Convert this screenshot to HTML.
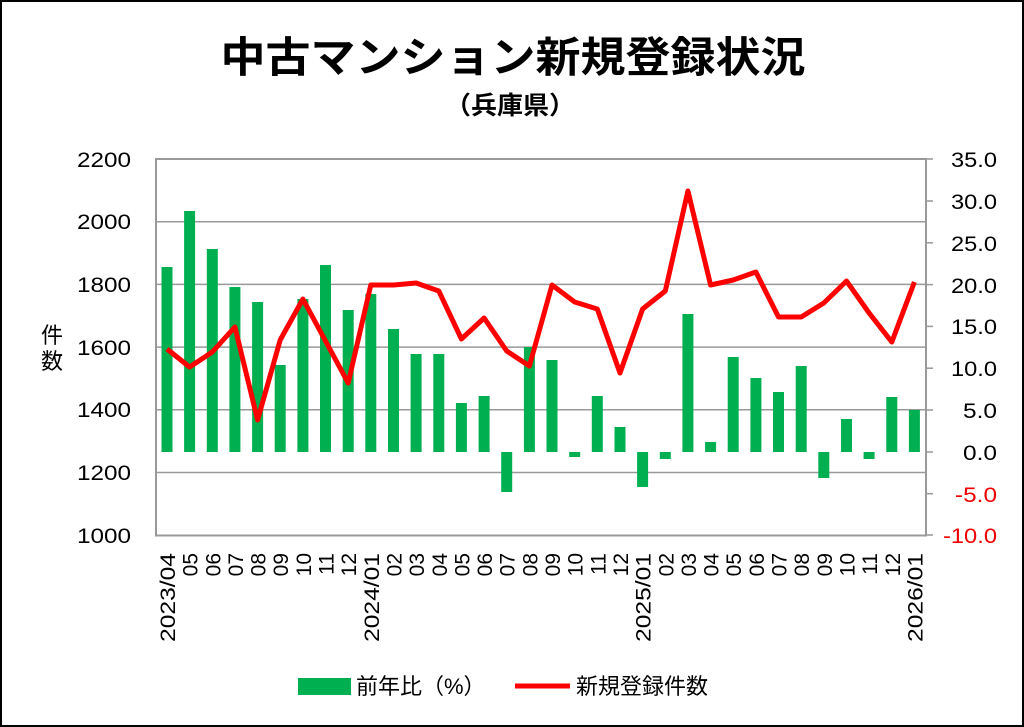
<!DOCTYPE html>
<html><head><meta charset="utf-8"><style>
html,body{margin:0;padding:0;background:#fff;}
svg{display:block;}
text{font-family:"Liberation Sans","Noto Sans CJK JP",sans-serif;}
</style></head><body>
<svg width="1024" height="727" viewBox="0 0 1024 727" xmlns="http://www.w3.org/2000/svg">
<rect x="1" y="1" width="1022" height="725" fill="#fff" stroke="#000" stroke-width="2"/>
<text x="513" y="72" font-size="42" font-weight="bold" text-anchor="middle" textLength="585" lengthAdjust="spacingAndGlyphs" font-family="Noto Sans CJK JP, sans-serif">中古マンション新規登録状況</text>
<text x="510" y="114" font-size="25" font-weight="bold" text-anchor="middle" textLength="130" lengthAdjust="spacingAndGlyphs" font-family="Noto Sans CJK JP, sans-serif">（兵庫県）</text>
<g stroke="#999" stroke-width="1.5">
<line x1="156" y1="221.7" x2="926" y2="221.7"/>
<line x1="156" y1="284.4" x2="926" y2="284.4"/>
<line x1="156" y1="347.1" x2="926" y2="347.1"/>
<line x1="156" y1="409.8" x2="926" y2="409.8"/>
<line x1="156" y1="472.5" x2="926" y2="472.5"/>
</g>
<rect x="156" y="159" width="770" height="376.5" fill="none" stroke="#999" stroke-width="2"/>
<g stroke="#999" stroke-width="1.5">
<line x1="926" y1="201" x2="933" y2="201"/><line x1="926" y1="242.8" x2="933" y2="242.8"/>
<line x1="926" y1="284.6" x2="933" y2="284.6"/><line x1="926" y1="326.4" x2="933" y2="326.4"/>
<line x1="926" y1="368.2" x2="933" y2="368.2"/><line x1="926" y1="410" x2="933" y2="410"/>
<line x1="926" y1="452" x2="933" y2="452"/><line x1="926" y1="493.7" x2="933" y2="493.7"/>
<line x1="926" y1="159" x2="933" y2="159"/><line x1="926" y1="535" x2="933" y2="535"/>
</g>
<g font-size="21" text-anchor="end" fill="#000">
<text x="131" y="167" textLength="54" lengthAdjust="spacingAndGlyphs">2200</text>
<text x="131" y="229" textLength="54" lengthAdjust="spacingAndGlyphs">2000</text>
<text x="131" y="292" textLength="54" lengthAdjust="spacingAndGlyphs">1800</text>
<text x="131" y="355" textLength="54" lengthAdjust="spacingAndGlyphs">1600</text>
<text x="131" y="417" textLength="54" lengthAdjust="spacingAndGlyphs">1400</text>
<text x="131" y="480" textLength="54" lengthAdjust="spacingAndGlyphs">1200</text>
<text x="131" y="543" textLength="54" lengthAdjust="spacingAndGlyphs">1000</text>
</g>
<g font-size="21" text-anchor="end" fill="#000">
<text x="997" y="167" textLength="46" lengthAdjust="spacingAndGlyphs">35.0</text>
<text x="997" y="209" textLength="46" lengthAdjust="spacingAndGlyphs">30.0</text>
<text x="997" y="251" textLength="46" lengthAdjust="spacingAndGlyphs">25.0</text>
<text x="997" y="293" textLength="46" lengthAdjust="spacingAndGlyphs">20.0</text>
<text x="997" y="334" textLength="46" lengthAdjust="spacingAndGlyphs">15.0</text>
<text x="997" y="376" textLength="46" lengthAdjust="spacingAndGlyphs">10.0</text>
<text x="997" y="418" textLength="34" lengthAdjust="spacingAndGlyphs">5.0</text>
<text x="997" y="460" textLength="34" lengthAdjust="spacingAndGlyphs">0.0</text>
<text x="997" y="502" fill="#e00" textLength="42" lengthAdjust="spacingAndGlyphs">-5.0</text>
<text x="997" y="543" fill="#e00" textLength="54" lengthAdjust="spacingAndGlyphs">-10.0</text>
</g>
<text x="52" y="343" font-size="22" text-anchor="middle" font-family="Noto Sans CJK JP, sans-serif">件</text>
<text x="52" y="369" font-size="22" text-anchor="middle" font-family="Noto Sans CJK JP, sans-serif">数</text>
<g fill="#00b050">
<rect x="161.5" y="267" width="11" height="185"/>
<rect x="184.1" y="211" width="11" height="241"/>
<rect x="206.8" y="249" width="11" height="203"/>
<rect x="229.4" y="287" width="11" height="165"/>
<rect x="252.1" y="302" width="11" height="150"/>
<rect x="274.7" y="365" width="11" height="87"/>
<rect x="297.4" y="299" width="11" height="153"/>
<rect x="320.0" y="265" width="11" height="187"/>
<rect x="342.7" y="310" width="11" height="142"/>
<rect x="365.3" y="294" width="11" height="158"/>
<rect x="388.0" y="329" width="11" height="123"/>
<rect x="410.6" y="354" width="11" height="98"/>
<rect x="433.3" y="354" width="11" height="98"/>
<rect x="455.9" y="403" width="11" height="49"/>
<rect x="478.6" y="396" width="11" height="56"/>
<rect x="501.2" y="452" width="11" height="40"/>
<rect x="523.9" y="347" width="11" height="105"/>
<rect x="546.5" y="360" width="11" height="92"/>
<rect x="569.2" y="452" width="11" height="5"/>
<rect x="591.8" y="396" width="11" height="56"/>
<rect x="614.5" y="427" width="11" height="25"/>
<rect x="637.1" y="452" width="11" height="35"/>
<rect x="659.8" y="452" width="11" height="7"/>
<rect x="682.4" y="314" width="11" height="138"/>
<rect x="705.1" y="442" width="11" height="10"/>
<rect x="727.7" y="357" width="11" height="95"/>
<rect x="750.4" y="378" width="11" height="74"/>
<rect x="773.0" y="392" width="11" height="60"/>
<rect x="795.7" y="366" width="11" height="86"/>
<rect x="818.3" y="452" width="11" height="26"/>
<rect x="841.0" y="419" width="11" height="33"/>
<rect x="863.6" y="452" width="11" height="7"/>
<rect x="886.3" y="397" width="11" height="55"/>
<rect x="908.9" y="410" width="11" height="42"/>
</g>
<polyline fill="none" stroke="#f00" stroke-width="5" stroke-linejoin="round" points="167,349 189.6,367 212.3,352 234.9,327 257.6,420 280.2,340 302.9,299 325.5,341 348.2,383 370.8,285 393.5,285 416.1,283 438.8,291 461.4,339 484.1,318 506.7,351 529.4,366 552,285 574.7,302 597.3,309 620,373 642.6,309 665.3,291 687.9,191 710.6,285 733.2,280 755.9,272 778.5,317 801.2,317 823.8,303 846.5,281 869.1,313 891.8,342 914.4,282"/>
<g font-size="21" fill="#000" text-anchor="end">
<text transform="translate(175,553) rotate(-90)" textLength="89" lengthAdjust="spacingAndGlyphs">2023/04</text>
<text transform="translate(197.6,553) rotate(-90)">05</text>
<text transform="translate(220.3,553) rotate(-90)">06</text>
<text transform="translate(242.9,553) rotate(-90)">07</text>
<text transform="translate(265.6,553) rotate(-90)">08</text>
<text transform="translate(288.2,553) rotate(-90)">09</text>
<text transform="translate(310.9,553) rotate(-90)">10</text>
<text transform="translate(333.5,553) rotate(-90)">11</text>
<text transform="translate(356.2,553) rotate(-90)">12</text>
<text transform="translate(378.8,553) rotate(-90)" textLength="89" lengthAdjust="spacingAndGlyphs">2024/01</text>
<text transform="translate(401.5,553) rotate(-90)">02</text>
<text transform="translate(424.1,553) rotate(-90)">03</text>
<text transform="translate(446.8,553) rotate(-90)">04</text>
<text transform="translate(469.4,553) rotate(-90)">05</text>
<text transform="translate(492.1,553) rotate(-90)">06</text>
<text transform="translate(514.7,553) rotate(-90)">07</text>
<text transform="translate(537.4,553) rotate(-90)">08</text>
<text transform="translate(560,553) rotate(-90)">09</text>
<text transform="translate(582.7,553) rotate(-90)">10</text>
<text transform="translate(605.3,553) rotate(-90)">11</text>
<text transform="translate(628,553) rotate(-90)">12</text>
<text transform="translate(650.6,553) rotate(-90)" textLength="89" lengthAdjust="spacingAndGlyphs">2025/01</text>
<text transform="translate(673.3,553) rotate(-90)">02</text>
<text transform="translate(695.9,553) rotate(-90)">03</text>
<text transform="translate(718.6,553) rotate(-90)">04</text>
<text transform="translate(741.2,553) rotate(-90)">05</text>
<text transform="translate(763.9,553) rotate(-90)">06</text>
<text transform="translate(786.5,553) rotate(-90)">07</text>
<text transform="translate(809.2,553) rotate(-90)">08</text>
<text transform="translate(831.8,553) rotate(-90)">09</text>
<text transform="translate(854.5,553) rotate(-90)">10</text>
<text transform="translate(877.1,553) rotate(-90)">11</text>
<text transform="translate(899.8,553) rotate(-90)">12</text>
<text transform="translate(922.4,553) rotate(-90)" textLength="89" lengthAdjust="spacingAndGlyphs">2026/01</text>
</g>
<rect x="298" y="678" width="53" height="17" fill="#00b050"/>
<text x="356" y="694" font-size="22" font-family="Noto Sans CJK JP, sans-serif">前年比（%）</text>
<line x1="515" y1="686" x2="570" y2="686" stroke="#f00" stroke-width="5"/>
<text x="576" y="694" font-size="22" font-family="Noto Sans CJK JP, sans-serif">新規登録件数</text>
</svg>
</body></html>
